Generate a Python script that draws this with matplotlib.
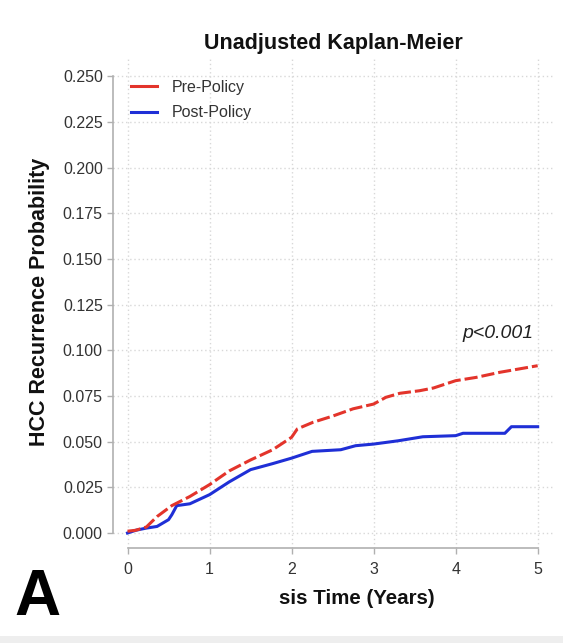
import numpy as np
import matplotlib.pyplot as plt
from matplotlib.patches import Rectangle

plt.rcParams['font.family'] = ['Liberation Sans', 'DejaVu Sans']

# curve points (years, cumulative recurrence)
pre_t = [0.0, 0.1, 0.23, 0.36, 0.54, 0.76, 1.0, 1.24, 1.5, 1.77, 2.0, 2.07,
         2.26, 2.5, 2.75, 3.0, 3.15, 3.32, 3.56, 3.73, 4.0, 4.25, 4.54, 5.0]
pre_p = [0.001, 0.0015, 0.0033, 0.009, 0.015, 0.020, 0.0265, 0.034, 0.040, 0.0456,
         0.0524, 0.057, 0.0606, 0.064, 0.068, 0.0706, 0.0743, 0.0765, 0.0779,
         0.0794, 0.0834, 0.0852, 0.088, 0.0916]

post_t = [0.0, 0.1, 0.23, 0.36, 0.5, 0.54, 0.6, 0.76, 1.0, 1.24, 1.5, 1.77, 2.0,
          2.25, 2.6, 2.78, 3.0, 3.3, 3.6, 4.0, 4.09, 4.6, 4.68, 5.0]
post_p = [0.0, 0.0015, 0.0027, 0.0036, 0.0073, 0.010, 0.015, 0.016, 0.021, 0.028,
          0.0347, 0.038, 0.041, 0.0447, 0.0456, 0.0478, 0.0487, 0.0505, 0.0527,
          0.0533, 0.0546, 0.0546, 0.0582, 0.0582]

x_ticks = [0, 1, 2, 3, 4, 5]
y_ticks = [0.000, 0.025, 0.050, 0.075, 0.100, 0.125, 0.150, 0.175, 0.200, 0.225, 0.250]

W, H = 563, 643
fig = plt.figure(figsize=(W / 100, H / 100), dpi=100)
# plot region in pixels: x 113..553, y 57..548
ax = fig.add_axes([113 / W, 1 - 548 / H, (553 - 113) / W, (548 - 57) / H])
ax.set_xlim(-0.177, 5.187)
ax.set_ylim(-0.0082, 0.2606)

grid_kw = dict(color="#d8d8d8", linestyle=(0, (1, 2)), linewidth=1.0, zorder=0)
for xt in x_ticks:
    ax.axvline(xt, **grid_kw)
for yt in y_ticks:
    ax.axhline(yt, **grid_kw)

ax.plot(pre_t, pre_p, color="#e3342b", linewidth=2.2,
        dashes=(4.3, 1.3), label="Pre-Policy", zorder=3)
ax.plot(post_t, post_p, color="#1f2fd6", linewidth=2.2,
        label="Post-Policy", zorder=2)

for s in ["top", "right"]:
    ax.spines[s].set_visible(False)
ax.spines["left"].set_bounds(0, 0.25)
ax.spines["bottom"].set_bounds(0, 5)
for s in ["left", "bottom"]:
    ax.spines[s].set_color("#b0b0b0")
    ax.spines[s].set_linewidth(1.2)

ax.set_xticks(x_ticks)
ax.set_yticks(y_ticks)
ax.set_yticklabels([f"{v:.3f}" for v in y_ticks])
ax.tick_params(colors="#b0b0b0", labelcolor="#333333", labelsize=11.5,
               length=4.3, width=1.0, pad=3)
ax.tick_params(axis="x", pad=6)

# legend uses plain solid keys, as in the picture
leg_lines = [plt.Line2D([], [], color="#e3342b", linewidth=2.2),
             plt.Line2D([], [], color="#1f2fd6", linewidth=2.2)]
fig.legend(leg_lines, ["Pre-Policy", "Post-Policy"], loc="center left",
           bbox_to_anchor=(131 / W, 1 - 100 / H), frameon=False, fontsize=11.5,
           borderpad=0, borderaxespad=0,
           handlelength=1.6, handletextpad=0.95, labelspacing=0.67,
           labelcolor="#333333")

ax.text(4.95, 0.109, "p<0.001", style="italic", fontsize=14, ha="right",
        va="center", color="#222222")

fig.text(333 / W, 1 - 43 / H, "Unadjusted Kaplan-Meier", fontsize=15.5,
         fontweight="bold", ha="center", va="center", color="#111111")
fig.text(40 / W, 1 - 302 / H, "HCC Recurrence Probability", fontsize=15.5,
         fontweight="bold", ha="center", va="center", rotation=90, color="#111111")
fig.text(435 / W, 1 - 598 / H, "sis Time (Years)", fontsize=14.8,
         fontweight="bold", ha="right", va="center", color="#111111")
fig.text(14 / W, 1 - 598 / H, "A", fontsize=46, fontweight="bold",
         ha="left", va="center", color="#000000")

fig.patches.append(Rectangle((0, 0), 1, 7 / H, transform=fig.transFigure,
                             facecolor="#eeeeee", edgecolor="none"))

fig.savefig("out.png", dpi=100)
